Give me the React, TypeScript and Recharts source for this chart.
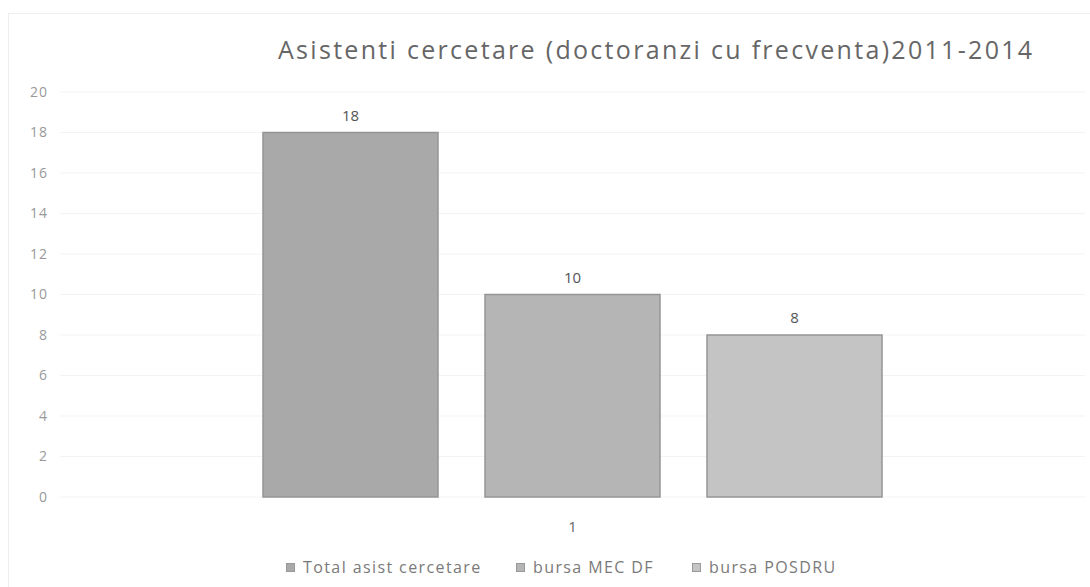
import React from "react"
import { BarChart, Bar, XAxis, YAxis, CartesianGrid, Legend, LabelList } from "recharts"

const categories = ["1"]
const seriesNames = ["Total asist cercetare", "bursa MEC DF", "bursa POSDRU"]
const totalValues = [18]
const mecValues = [10]
const posdruValues = [8]
const yTicks = [0, 2, 4, 6, 8, 10, 12, 14, 16, 18, 20]

const seriesColors = ["#a9a9a9", "#b5b5b5", "#c4c4c4"]
const seriesKeys = ["total", "mec", "posdru"]

const chartData = categories.map((cat, i) => ({
  name: cat,
  total: totalValues[i],
  mec: mecValues[i],
  posdru: posdruValues[i]
}))

const font = "'Open Sans', 'Noto Sans', sans-serif"

// legend laid out like the excel one: small squares, wide gaps
function renderLegend(props: any) {
  const { payload } = props
  const widths = [230, 176, 180]
  return (
    <div style={{ display: "flex", fontFamily: font, fontSize: 16, letterSpacing: 1.4, color: "#7a7a7a" }}>
      {payload.map((entry: any, i: number) => (
        <div key={entry.value} style={{ display: "flex", alignItems: "center", width: widths[i] }}>
          <span style={{ width: 9, height: 9, background: entry.color, border: "1px solid #999", marginRight: 8, boxSizing: "border-box" }} />
          <span>{entry.value}</span>
        </div>
      ))}
    </div>
  )
}

export default function App() {
  return (
    <div style={{ position: "absolute", left: 0, top: 0, width: 1090, height: 587, background: "#fff" }}>
      <div style={{ position: "absolute", left: 8, top: 13, right: 0, bottom: 0, borderLeft: "1px solid #eee", borderTop: "1px solid #eee" }} />
      <div
        style={{
          position: "absolute",
          left: 278,
          top: 32,
          fontFamily: font,
          fontSize: 25,
          letterSpacing: 2.3,
          color: "#666",
          whiteSpace: "nowrap"
        }}
      >
        Asistenti cercetare (doctoranzi cu frecventa)2011-2014
      </div>
      <BarChart
        width={1090}
        height={587}
        data={chartData}
        margin={{ top: 92, right: 5, bottom: 0, left: 0 }}
        barSize={175}
        barGap={47}
      >
        <CartesianGrid vertical={false} stroke="#f3f3f3" />
        <XAxis
          dataKey="name"
          axisLine={false}
          tickLine={false}
          height={68}
          tickMargin={18}
          tick={{ fill: "#666", fontSize: 15, fontFamily: font }}
        />
        <YAxis
          domain={[0, 20]}
          ticks={yTicks}
          width={60}
          axisLine={false}
          tickLine={false}
          tickMargin={6}
          tick={{ fill: "#999", fontSize: 14, fontFamily: font, letterSpacing: 1 }}
        />
        <Legend
          content={renderLegend}
          wrapperStyle={{ position: "absolute", left: 286, top: 556, width: "auto" }}
        />
        {seriesKeys.map((key, i) => (
          <Bar
            key={key}
            dataKey={key}
            name={seriesNames[i]}
            fill={seriesColors[i]}
            stroke="#959595"
            strokeWidth={1.5}
            isAnimationActive={false}
          >
            <LabelList dataKey={key} position="top" offset={12} fill="#555" fontSize={15} fontFamily={font} />
          </Bar>
        ))}
      </BarChart>
    </div>
  )
}
